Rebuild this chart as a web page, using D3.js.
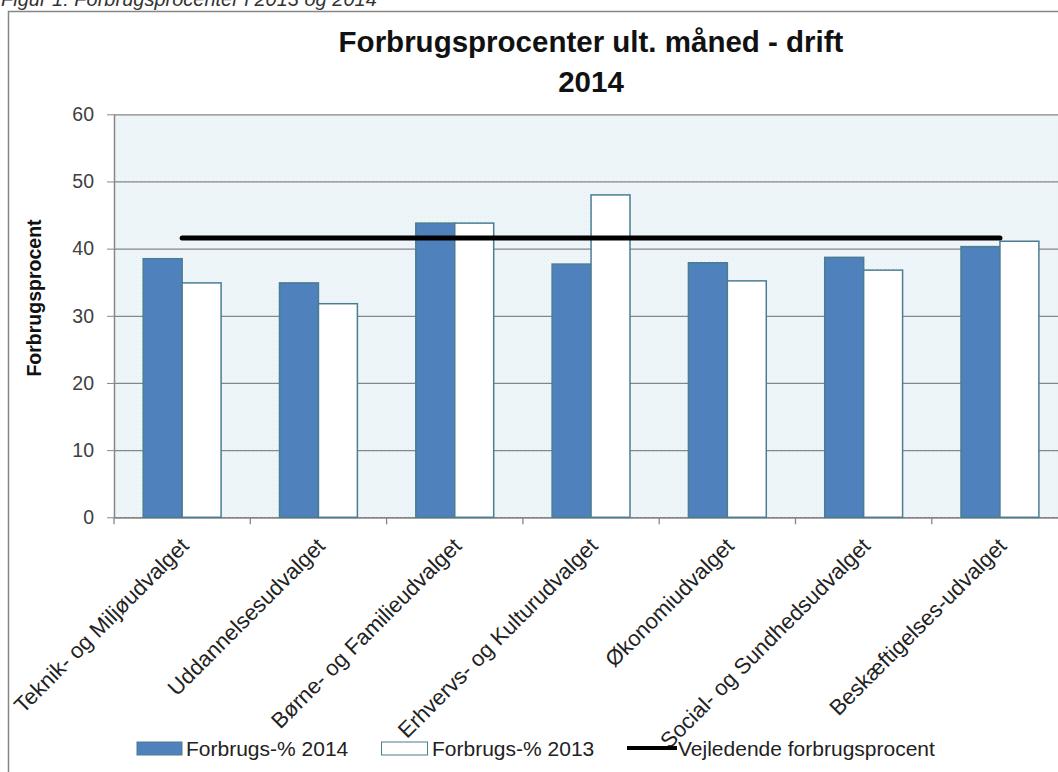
<!DOCTYPE html>
<html>
<head>
<meta charset="utf-8">
<script src="https://cdn.jsdelivr.net/npm/d3@7"></script>
<style>
  body { margin: 0; background: #fff; }
  svg { display: block; font-family: "Liberation Sans", Arial, sans-serif; }
  .axis path, .axis line { stroke: #868686; }
  .axis text { fill: #404040; }
</style>
</head>
<body>
<svg id="chart" width="1058" height="772"></svg>
<script>
// categories and series
let categories = ["Teknik- og Miljøudvalget", "Uddannelsesudvalget", "Børne- og Familieudvalget",
  "Erhvervs- og Kulturudvalget", "Økonomiudvalget", "Social- og Sundhedsudvalget", "Beskæftigelses-udvalget"];
let seriesNames = ["Forbrugs-% 2014", "Forbrugs-% 2013"];
let values2014 = [38.5, 34.9, 43.8, 37.7, 37.9, 38.7, 40.3];
let values2013 = [34.9, 31.8, 43.8, 48.0, 35.2, 36.8, 41.1];
let guideValue = 41.6;
let guideName = "Vejledende forbrugsprocent";
let yTicks = [0, 10, 20, 30, 40, 50, 60];

let svg = d3.select("#chart");
let W = 1058, H = 772;

// outer frame + caption (caption is cut off at the top, as in the source page)
svg.append("text")
  .attr("x", 1).attr("y", 6)
  .attr("font-size", 20).attr("font-style", "italic").attr("fill", "#333")
  .text("Figur 1: Forbrugsprocenter i 2013 og 2014");
svg.append("rect")
  .attr("x", 8.5).attr("y", 11.5)
  .attr("width", W + 20).attr("height", H + 20)
  .attr("fill", "none").attr("stroke", "#868686").attr("stroke-width", 1.5);

// plot area
let plotLeft = 114, plotTop = 114.3, plotBottom = 517.3, step = 136.3;
let plotRight = plotLeft + step * categories.length;

let x0 = d3.scaleBand().domain(categories).range([plotLeft, plotRight]).paddingInner(0).paddingOuter(0);
let x1 = d3.scaleBand().domain(seriesNames).range([0, x0.bandwidth()]).paddingInner(0).paddingOuter(0.75);
let y = d3.scaleLinear().domain([0, 60]).range([plotBottom, plotTop]);

// dotted light blue background
let defs = svg.append("defs");
let pat = defs.append("pattern").attr("id", "dots").attr("width", 4).attr("height", 4)
  .attr("patternUnits", "userSpaceOnUse");
pat.append("rect").attr("width", 4).attr("height", 4).attr("fill", "#eef6fa");
pat.append("rect").attr("width", 1).attr("height", 1).attr("fill", "#dfeaf1");
pat.append("rect").attr("x", 2).attr("y", 2).attr("width", 1).attr("height", 1).attr("fill", "#e3eef4");

svg.append("rect")
  .attr("x", plotLeft).attr("y", plotTop)
  .attr("width", plotRight - plotLeft).attr("height", plotBottom - plotTop)
  .attr("fill", "url(#dots)");

// gridlines
svg.append("g")
  .attr("class", "axis grid")
  .attr("transform", "translate(" + plotLeft + ",0)")
  .call(d3.axisRight(y).tickValues(yTicks).tickSize(plotRight - plotLeft).tickFormat(""))
  .call(g => g.select(".domain").remove())
  .selectAll("line").attr("stroke", "#8c8c8c").attr("stroke-width", 1.3);

// y axis
let yAxis = svg.append("g")
  .attr("class", "axis")
  .attr("transform", "translate(" + plotLeft + ",0)")
  .call(d3.axisLeft(y).tickValues(yTicks).tickSize(7).tickPadding(13).tickSizeOuter(0));
yAxis.selectAll("text").attr("font-size", 19.5).attr("font-family", "Liberation Sans, Arial, sans-serif");
yAxis.select(".domain").attr("stroke-width", 1.5);

svg.append("text")
  .attr("transform", "translate(41,298) rotate(-90)")
  .attr("text-anchor", "middle")
  .attr("font-size", 19.5).attr("font-weight", "bold").attr("fill", "#111")
  .text("Forbrugsprocent");

// x axis
let xAxis = svg.append("g")
  .attr("class", "axis")
  .attr("transform", "translate(0," + plotBottom + ")")
  .call(d3.axisBottom(x0).tickSize(0).tickFormat(""));
xAxis.select(".domain").attr("stroke-width", 1.5);
xAxis.selectAll(".boundary")
  .data(d3.range(categories.length + 1))
  .enter().append("line")
  .attr("x1", i => plotLeft + i * step).attr("x2", i => plotLeft + i * step)
  .attr("y1", 0).attr("y2", 7)
  .attr("stroke", "#868686").attr("stroke-width", 1.3);

// bars
let rows = categories.map((c, i) => ({ cat: c, vals: [values2014[i], values2013[i]] }));
let colors = ["#4f81bd", "#ffffff"];
let groups = svg.selectAll(".group")
  .data(rows)
  .enter().append("g")
  .attr("transform", d => "translate(" + x0(d.cat) + ",0)");
groups.selectAll("rect")
  .data(d => d.vals.map((v, j) => ({ name: seriesNames[j], v: v, j: j })))
  .enter().append("rect")
  .attr("x", d => x1(d.name))
  .attr("y", d => y(d.v))
  .attr("width", x1.bandwidth())
  .attr("height", d => plotBottom - y(d.v))
  .attr("fill", d => colors[d.j])
  .attr("stroke", "#4b7d92").attr("stroke-width", 1.5);

// guide line
let centers = [categories[0], categories[categories.length - 1]].map(c => x0(c) + x0.bandwidth() / 2);
svg.append("line")
  .attr("x1", centers[0]).attr("x2", centers[1])
  .attr("y1", y(guideValue)).attr("y2", y(guideValue))
  .attr("stroke", "#000").attr("stroke-width", 5).attr("stroke-linecap", "round");

// category labels
svg.selectAll(".catlabel")
  .data(categories)
  .enter().append("text")
  .attr("transform", d => "translate(" + (x0(d) + x0.bandwidth() / 2 + 8) + "," + (plotBottom + 30) + ") rotate(-45)")
  .attr("text-anchor", "end")
  .attr("font-size", 22).attr("fill", "#222")
  .text(d => d);

// title
svg.append("text")
  .attr("x", 591).attr("y", 52)
  .attr("text-anchor", "middle").attr("font-size", 29.5).attr("font-weight", "bold").attr("fill", "#111")
  .text("Forbrugsprocenter ult. måned - drift");
svg.append("text")
  .attr("x", 591).attr("y", 92)
  .attr("text-anchor", "middle").attr("font-size", 29.5).attr("font-weight", "bold").attr("fill", "#111")
  .text("2014");

// legend
let legend = svg.append("g").attr("font-size", 21).attr("fill", "#222");
legend.append("rect").attr("x", 137).attr("y", 742).attr("width", 45).attr("height", 13)
  .attr("fill", colors[0]).attr("stroke", "#4b7d92");
legend.append("text").attr("x", 186).attr("y", 756).text(seriesNames[0]);
legend.append("rect").attr("x", 381.5).attr("y", 742).attr("width", 46).attr("height", 13)
  .attr("fill", colors[1]).attr("stroke", "#4b7d92");
legend.append("text").attr("x", 432).attr("y", 756).text(seriesNames[1]);
legend.append("line").attr("x1", 627).attr("x2", 677).attr("y1", 748).attr("y2", 748)
  .attr("stroke", "#000").attr("stroke-width", 4);
legend.append("text").attr("x", 678).attr("y", 756).text(guideName);
</script>
</body>
</html>
